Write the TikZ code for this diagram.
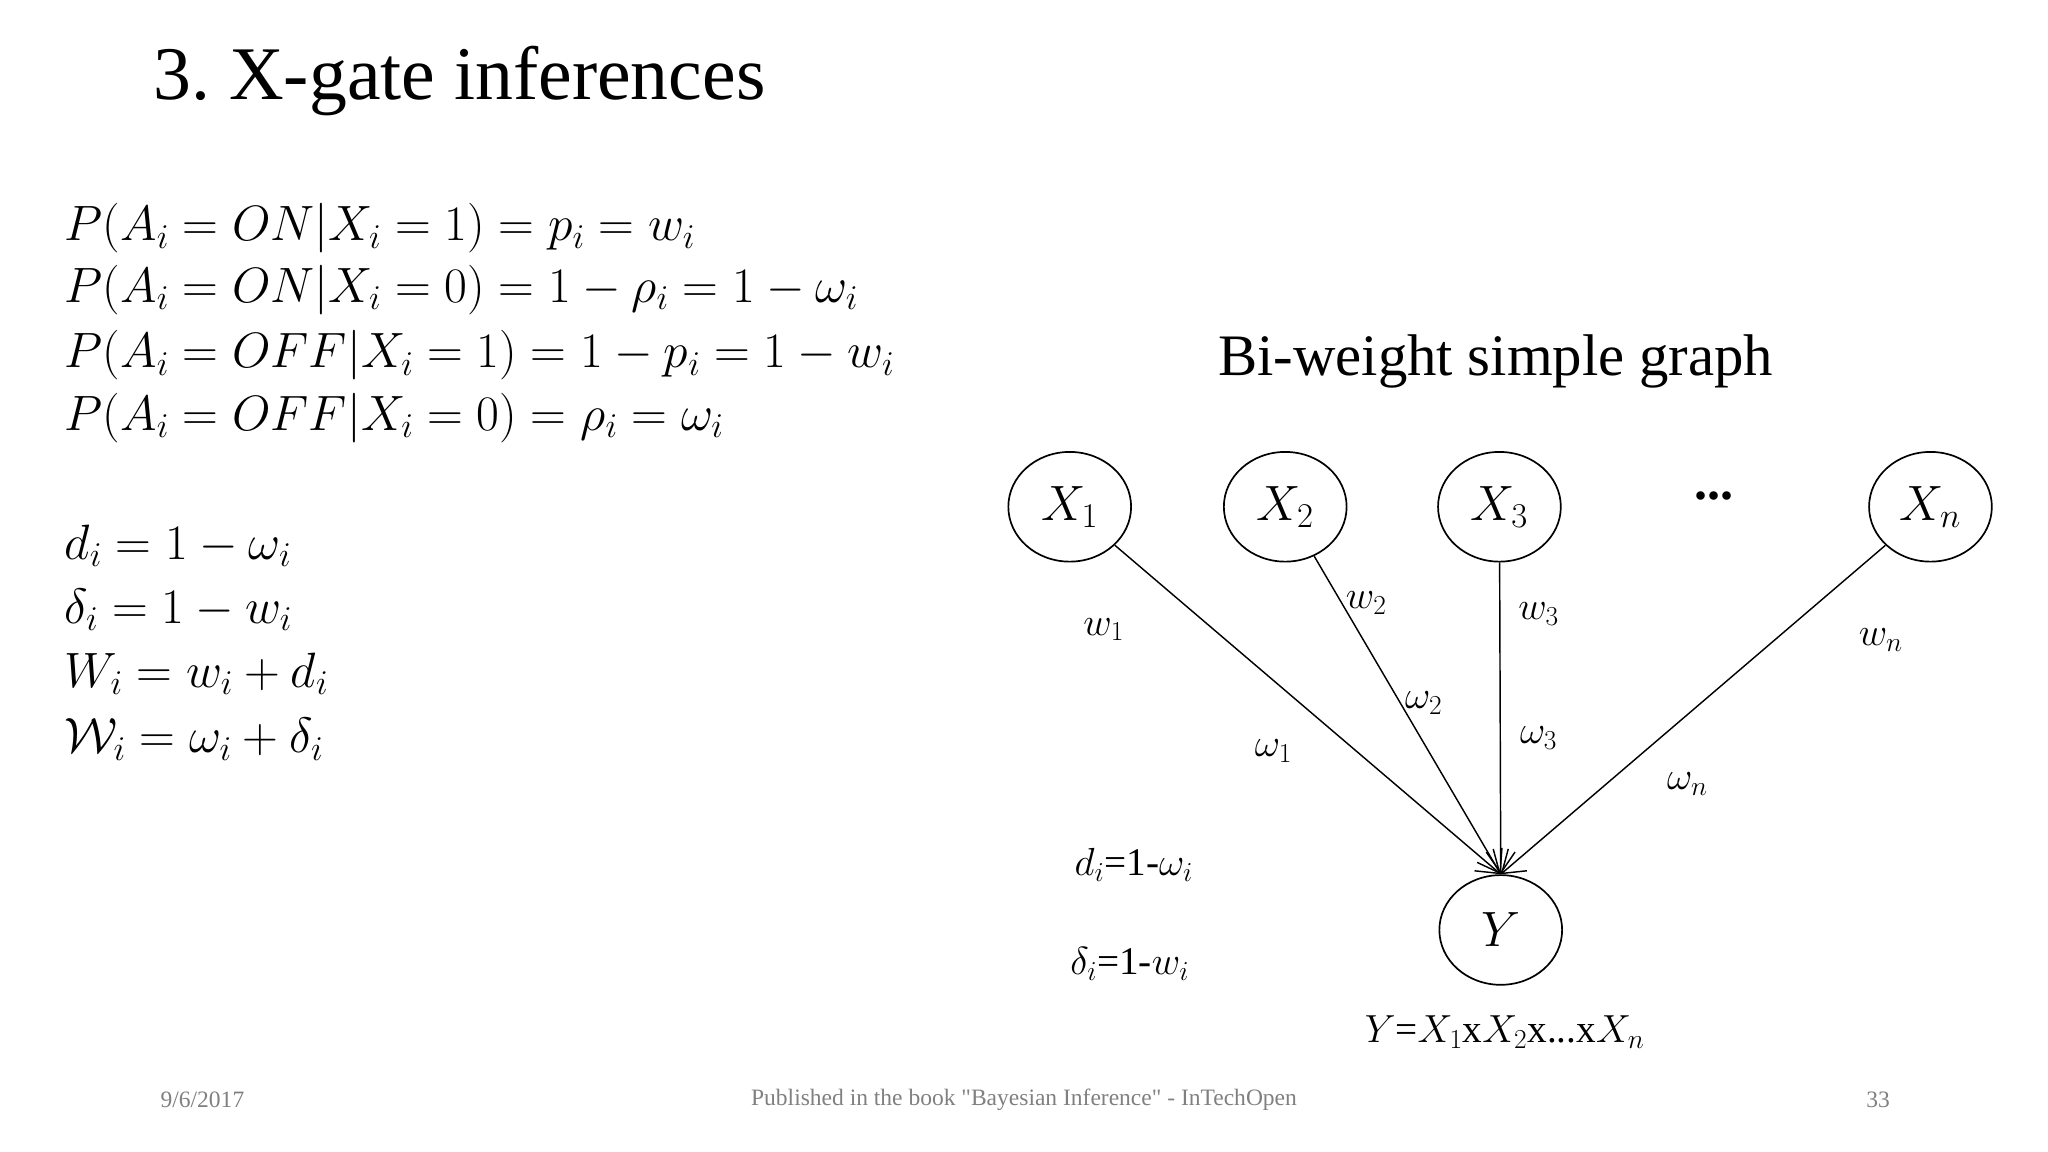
\RequirePackage{fix-cm}
\documentclass[tikz,border=0pt]{standalone}
\usepackage{fontspec}
\setmainfont{Liberation Serif}
\newfontfamily\plainserif{Liberation Serif}
\usetikzlibrary{arrows.meta,shapes.geometric}
\tikzset{
  var/.style={draw,ellipse,line width=1.3pt,minimum width=94pt,minimum height=84pt,inner sep=0pt,font=\fontsize{38}{40}\selectfont},
  lab/.style={font=\fontsize{30}{32}\selectfont},
  eq/.style={anchor=west,font=\fontsize{38}{40}\selectfont},
  edge/.style={line width=1.1pt,-{Straight Barb[length=16pt,width=22pt]}},
  foot/.style={font=\plainserif\fontsize{18}{20}\selectfont,text=gray}
}
\begin{document}
\frenchspacing
\begin{tikzpicture}[x=1pt,y=-1pt]
\useasboundingbox (0,0) rectangle (1568,882);
\node[anchor=west,font=\fontsize{58}{62}\selectfont] (title) at (114,62) {3. X-gate inferences};
\node[eq] (e1) at (46,175) {$P(A_i=ON|X_i=1)=p_i=w_i$};
\node[eq] (e2) at (46,222) {$P(A_i=ON|X_i=0)=1-\rho_i=1-\omega_i$};
\node[eq] (e3) at (46,272) {$P(A_i=OFF|X_i=1)=1-p_i=1-w_i$};
\node[eq] (e4) at (46,320) {$P(A_i=OFF|X_i=0)=\rho_i=\omega_i$};
\node[eq] (e5) at (46,418) {$d_i=1-\omega_i$};
\node[eq] (e6) at (46,467) {$\delta_i=1-w_i$};
\node[eq] (e7) at (46,516) {$W_i=w_i+d_i$};
\node[eq] (e8) at (46,566) {$\mathcal{W}_i=\omega_i+\delta_i$};
\node[font=\fontsize{45}{50}\selectfont] (gt) at (1145,277) {Bi-weight simple graph};
\node[var] (x1) at (819,388) {$X_1$};
\node[var] (x2) at (984,388) {$X_2$};
\node[var] (x3) at (1148,388) {$X_3$};
\node[font=\fontsize{40}{40}\selectfont\bfseries] (dots) at (1312,380) {...};
\node[var] (xn) at (1478,388) {$X_n$};
\node[var] (y) at (1149,712) {$Y$};
\draw[edge] (x1) -- (y.north);
\draw[edge] (x2) -- (y.north);
\draw[edge] (x3) -- (y.north);
\draw[edge] (xn) -- (y.north);
\node[lab] (w1) at (845,482) {$w_1$};
\node[lab] (o1) at (975,575) {$\omega_1$};
\node[lab] (w2) at (1046,462) {$w_2$};
\node[lab] (o2) at (1090,538) {$\omega_2$};
\node[lab] (w3) at (1178,470) {$w_3$};
\node[lab] (o3) at (1178,565) {$\omega_3$};
\node[lab] (wn) at (1440,490) {$w_n$};
\node[lab] (on) at (1292,600) {$\omega_n$};
\node[lab] (d) at (868,662) {$d_i$=1-$\omega_i$};
\node[lab] (dl) at (865,738) {$\delta_i$=1-$w_i$};
\node[lab] (yeq) at (1152,790) {$Y$=$X_1$x$X_2$x...x$X_n$};
\node[foot] (f1) at (155,842) {9/6/2017};
\node[foot] (f2) at (784,842) {Published in the book "Bayesian Inference" - InTechOpen};
\node[foot] (f3) at (1438,842) {33};
\end{tikzpicture}
\end{document}
